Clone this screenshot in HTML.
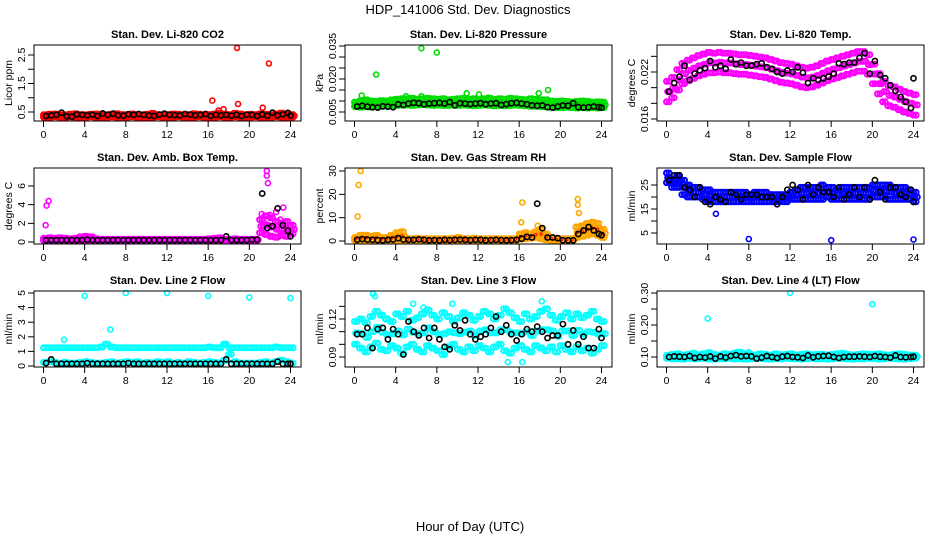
<!DOCTYPE html>
<html><head><meta charset="utf-8"><style>
body{margin:0;background:#fff}
svg{display:block;font-family:"Liberation Sans",sans-serif}
</style></head><body>
<svg id="chart" width="936" height="540" viewBox="0 0 936 540" xmlns="http://www.w3.org/2000/svg">
<rect width="936" height="540" fill="#fff"/>
<text x="468" y="14" text-anchor="middle" font-size="13">HDP_141006 Std. Dev. Diagnostics</text>
<text x="470" y="531" text-anchor="middle" font-size="13">Hour of Day (UTC)</text>
</svg>
<script>
const xTicks=[0,4,8,12,16,20,24];
const co2Hi=[0.40,0.42,0.43,0.41,0.40,0.42,0.44,0.41,0.40,0.42,0.43,0.41,0.40,0.42,0.44,0.41,0.40,0.43,0.41,0.40,0.42,0.45,0.41,0.40,0.41,0.43,0.42,0.40,0.41,0.44,0.42,0.40,0.41,0.43,0.46,0.42,0.41,0.45,0.43,0.40,0.42,0.41,0.44,0.42,0.41,0.43,0.46,0.42,0.41];
const co2Lo=[0.32,0.31,0.33,0.32,0.30,0.33,0.32,0.31,0.32,0.33,0.31,0.32,0.30,0.33,0.32,0.31,0.32,0.33,0.31,0.32,0.30,0.32,0.33,0.31,0.32,0.31,0.33,0.32,0.30,0.32,0.33,0.31,0.32,0.31,0.33,0.32,0.31,0.33,0.32,0.30,0.32,0.33,0.31,0.32,0.31,0.33,0.32,0.31,0.32];
const co2Blk=[0.36,0.38,0.40,0.48,0.35,0.33,0.42,0.40,0.38,0.41,0.36,0.45,0.40,0.44,0.38,0.37,0.42,0.40,0.43,0.40,0.38,0.36,0.41,0.44,0.40,0.39,0.38,0.43,0.41,0.38,0.40,0.43,0.36,0.40,0.38,0.40,0.37,0.40,0.36,0.41,0.40,0.36,0.42,0.37,0.48,0.38,0.42,0.47,0.38];
const co2OutH=[18.8,21.9,16.4,18.9,21.3,17.0,17.5];
const co2OutV=[2.75,2.2,0.9,0.78,0.65,0.55,0.6];
const prsHi=[0.0095,0.0100,0.0105,0.0100,0.0098,0.0102,0.0100,0.0105,0.0108,0.0110,0.0110,0.0112,0.0108,0.0110,0.0112,0.0110,0.0108,0.0110,0.0106,0.0108,0.0110,0.0112,0.0108,0.0110,0.0108,0.0110,0.0112,0.0108,0.0110,0.0108,0.0112,0.0110,0.0108,0.0106,0.0110,0.0108,0.0106,0.0105,0.0100,0.0098,0.0100,0.0098,0.0095,0.0098,0.0100,0.0098,0.0095,0.0096,0.0095];
const prsLo=[0.0075,0.0072,0.0074,0.0072,0.0075,0.0076,0.0078,0.0080,0.0080,0.0082,0.0082,0.0080,0.0082,0.0084,0.0082,0.0080,0.0082,0.0080,0.0080,0.0082,0.0080,0.0082,0.0080,0.0078,0.0080,0.0082,0.0080,0.0078,0.0080,0.0078,0.0080,0.0082,0.0080,0.0078,0.0076,0.0076,0.0075,0.0074,0.0072,0.0070,0.0070,0.0072,0.0070,0.0068,0.0070,0.0068,0.0070,0.0068,0.0070];
const prsBlk=[0.0075,0.0078,0.0074,0.0072,0.0070,0.0076,0.0074,0.0072,0.0085,0.0082,0.0088,0.0092,0.0090,0.0085,0.0088,0.0090,0.0092,0.0088,0.0095,0.0080,0.0090,0.0088,0.0086,0.0088,0.0090,0.0085,0.0088,0.0090,0.0082,0.0086,0.0090,0.0092,0.0088,0.0085,0.0080,0.0078,0.0080,0.0072,0.0070,0.0075,0.0080,0.0078,0.0090,0.0072,0.0070,0.0072,0.0075,0.0072,0.0070];
const prsOutH=[6.5,8.0,2.1,0.7,5.0,6.5,10.9,12.1,18.8,17.9,4.8,13.0];
const prsOutV=[0.034,0.032,0.022,0.0125,0.0122,0.0122,0.0135,0.013,0.015,0.0135,0.011,0.0115];
const tmpHi=[0.0208,0.0213,0.0223,0.0231,0.0235,0.0238,0.0241,0.0243,0.0245,0.0244,0.0245,0.0244,0.0244,0.0243,0.0242,0.0242,0.0241,0.0240,0.0239,0.0238,0.0236,0.0234,0.0232,0.0231,0.0230,0.0228,0.0226,0.0225,0.0226,0.0228,0.0231,0.0234,0.0236,0.0238,0.0240,0.0242,0.0244,0.0246,0.0246,0.0242,0.0230,0.0218,0.0208,0.0203,0.0201,0.0198,0.0195,0.0193,0.0191];
const tmpLo=[0.0182,0.0187,0.0197,0.0205,0.0209,0.0212,0.0215,0.0217,0.0219,0.0219,0.0220,0.0219,0.0219,0.0218,0.0217,0.0217,0.0216,0.0215,0.0214,0.0213,0.0211,0.0209,0.0207,0.0206,0.0205,0.0203,0.0201,0.0200,0.0201,0.0203,0.0206,0.0209,0.0211,0.0213,0.0215,0.0217,0.0219,0.0221,0.0221,0.0217,0.0205,0.0192,0.0182,0.0177,0.0175,0.0172,0.0169,0.0167,0.0165];
const tmpBlk=[0.0195,0.0206,0.0214,0.0228,0.0210,0.0218,0.0222,0.0225,0.0234,0.0226,0.0228,0.0224,0.0236,0.0230,0.0232,0.0228,0.0228,0.0230,0.0231,0.0226,0.0224,0.0220,0.0218,0.0222,0.0220,0.0226,0.0219,0.0206,0.0212,0.0210,0.0212,0.0214,0.0218,0.0231,0.0230,0.0232,0.0232,0.0238,0.0244,0.0218,0.0234,0.0216,0.0212,0.0203,0.0196,0.0188,0.0182,0.0174,0.0212];
const ambHi=[0.40,0.45,0.40,0.45,0.40,0.35,0.40,0.55,0.60,0.55,0.35,0.30,0.30,0.30,0.30,0.30,0.30,0.30,0.30,0.30,0.30,0.30,0.30,0.30,0.30,0.30,0.30,0.30,0.30,0.30,0.30,0.30,0.35,0.40,0.45,0.30,0.30,0.35,0.30,0.30,0.30,0.30,2.4,2.8,2.6,2.2,2.0,2.2,1.8];
const ambLo=[0.15,0.15,0.15,0.15,0.15,0.15,0.15,0.15,0.15,0.15,0.15,0.15,0.15,0.15,0.15,0.15,0.15,0.15,0.15,0.15,0.15,0.15,0.15,0.15,0.15,0.15,0.15,0.15,0.15,0.15,0.15,0.15,0.15,0.15,0.15,0.15,0.15,0.15,0.15,0.15,0.15,0.15,1.0,0.8,0.6,0.5,0.7,0.6,0.9];
const ambBlk=[0.2,0.2,0.2,0.2,0.2,0.2,0.2,0.2,0.25,0.2,0.2,0.2,0.2,0.2,0.2,0.2,0.2,0.2,0.2,0.2,0.2,0.2,0.2,0.2,0.2,0.2,0.2,0.2,0.2,0.2,0.2,0.2,0.2,0.2,0.2,0.6,0.2,0.2,0.2,0.2,0.25,0.25,5.2,1.5,1.7,3.6,1.8,1.2,0.6];
const ambOutH=[0.2,0.3,0.5,21.7,21.7,21.8,21.2,23.3,22.6,21.5,22.0,23.0];
const ambOutV=[1.8,3.9,4.4,7.6,7.1,6.3,3.0,3.7,3.2,2.0,2.9,2.4];
const rhHi=[1.5,2.5,2.5,2.0,2.5,1.5,1.5,2.5,3.5,4.0,1.0,1.0,1.2,1.0,1.0,1.0,1.0,1.0,1.0,1.2,1.5,1.0,1.0,1.2,1.0,1.0,1.0,1.0,1.0,1.0,1.0,1.0,3.0,3.5,3.0,4.0,5.0,3.0,1.5,1.0,1.0,1.0,1.0,6.0,6.5,7.5,8.0,7.5,5.0];
const rhLo=[0.3,0.3,0.3,0.3,0.3,0.3,0.3,0.3,0.3,0.3,0.3,0.3,0.3,0.3,0.3,0.3,0.3,0.3,0.3,0.3,0.3,0.3,0.3,0.3,0.3,0.3,0.3,0.3,0.3,0.3,0.3,0.3,0.8,1.0,1.2,1.5,1.0,0.5,0.4,0.3,0.3,0.3,0.3,1.5,2.0,2.5,3.0,2.5,1.5];
const rhBlk=[0.5,0.8,0.6,0.5,0.4,0.3,0.5,0.6,1.2,0.6,0.5,0.5,0.7,0.5,0.3,0.4,0.3,0.5,0.4,0.5,0.6,0.5,0.4,0.5,0.5,0.3,0.4,0.5,0.4,0.3,0.4,0.5,1.0,1.8,1.5,16.0,5.5,1.5,1.5,1.2,0.3,0.3,0.3,3.0,4.5,6.0,4.5,3.0,2.5];
const rhOutH=[0.3,0.4,0.6,16.3,16.2,21.7,21.7,21.8,17.8];
const rhOutV=[10.5,24,30,16.5,8,18,15.5,12,6.5];
const sfHi=[30,27,29,27,25,24,24,23,23,22,22,22,22,22,22,22,21,22,22,22,21,21,21,21,22,23,24,24,24,24,25,24,24,23,24,24,24,24,24,24,25,25,25,25,24,24,24,23,22];
const sfLo=[26,24,24,21,20,20,20,19,18,18,18,18,18,18,18,18,18,18,18,18,18,18,18,18,19,19,19,19,19,19,19,20,19,19,19,19,19,19,19,19,20,20,20,19,19,19,19,19,18];
const sfBlk=[27,29,29,24,23,20,24,18,17,20,19,18,22,21,19,21,21,21,20,20,20,17,20,23,25,23,19,25,21,24,22,22,20,24,19,21,24,20,24,19,27,22,19,24,24,21,20,23,18];
const sfOutH=[8,16,24,4.8,0.3,1.1];
const sfOutV=[2.5,2,2.3,13,28,29];
const l2Hi=[1.25,1.25,1.25,1.25,1.25,1.25,1.25,1.25,1.25,1.25,1.25,1.3,1.5,1.3,1.25,1.25,1.25,1.25,1.25,1.25,1.25,1.25,1.25,1.25,1.25,1.25,1.25,1.25,1.25,1.25,1.25,1.25,1.3,1.25,1.25,1.5,1.25,1.25,1.25,1.25,1.25,1.25,1.25,1.25,1.25,1.3,1.25,1.25,1.25];
const l2Lo=[0.25,0.3,0.25,0.2,0.25,0.2,0.2,0.25,0.3,0.25,0.2,0.2,0.25,0.3,0.2,0.25,0.3,0.25,0.3,0.2,0.25,0.2,0.3,0.25,0.3,0.2,0.25,0.2,0.3,0.25,0.2,0.25,0.3,0.25,0.2,0.4,0.8,0.3,0.2,0.2,0.2,0.2,0.25,0.3,0.2,0.3,0.4,0.3,0.2];
const l2Blk=[0.2,0.45,0.15,0.15,0.15,0.15,0.15,0.15,0.2,0.15,0.15,0.15,0.15,0.15,0.15,0.15,0.2,0.15,0.15,0.15,0.15,0.15,0.15,0.15,0.15,0.15,0.15,0.15,0.15,0.15,0.15,0.15,0.15,0.15,0.15,0.45,0.15,0.15,0.15,0.15,0.15,0.15,0.15,0.15,0.15,0.3,0.15,0.15,0.15];
const l2OutH=[4,8,12,16,20,24,6.5,2,17.6];
const l2OutV=[4.8,5,5,4.8,4.7,4.65,2.5,1.8,1.5];
const l3Hi=[0.118,0.120,0.117,0.122,0.126,0.123,0.120,0.118,0.124,0.122,0.126,0.119,0.121,0.124,0.127,0.123,0.120,0.125,0.122,0.118,0.121,0.125,0.123,0.119,0.122,0.126,0.124,0.120,0.123,0.128,0.125,0.121,0.118,0.124,0.120,0.122,0.126,0.128,0.123,0.119,0.122,0.125,0.120,0.124,0.121,0.123,0.126,0.120,0.118];
const l3Lo=[0.100,0.097,0.094,0.098,0.101,0.096,0.095,0.099,0.097,0.093,0.098,0.100,0.096,0.094,0.099,0.097,0.095,0.092,0.098,0.100,0.096,0.094,0.098,0.095,0.099,0.097,0.094,0.098,0.100,0.095,0.093,0.097,0.099,0.096,0.094,0.099,0.097,0.095,0.098,0.094,0.099,0.096,0.094,0.098,0.095,0.097,0.093,0.096,0.099];
const l3Blk=[0.108,0.108,0.113,0.097,0.112,0.113,0.104,0.112,0.108,0.092,0.118,0.110,0.107,0.113,0.105,0.113,0.104,0.098,0.096,0.115,0.111,0.119,0.108,0.104,0.106,0.108,0.113,0.122,0.110,0.115,0.108,0.103,0.108,0.112,0.110,0.114,0.110,0.105,0.107,0.107,0.116,0.100,0.111,0.100,0.106,0.097,0.097,0.112,0.105];
const l3OutH=[1.8,2.0,6.7,9.5,16.3,18.2,14.9,5.7];
const l3OutV=[0.140,0.138,0.129,0.132,0.086,0.134,0.086,0.132];
const l4Hi=[0.105,0.108,0.110,0.106,0.108,0.112,0.107,0.110,0.113,0.108,0.106,0.110,0.108,0.112,0.115,0.110,0.108,0.106,0.110,0.108,0.106,0.110,0.107,0.108,0.110,0.106,0.108,0.110,0.107,0.108,0.109,0.106,0.108,0.110,0.112,0.108,0.106,0.108,0.110,0.109,0.108,0.110,0.107,0.106,0.108,0.110,0.108,0.106,0.106];
const l4Lo=[0.096,0.094,0.095,0.093,0.096,0.094,0.095,0.096,0.094,0.093,0.095,0.094,0.096,0.094,0.095,0.093,0.094,0.096,0.095,0.094,0.093,0.095,0.094,0.096,0.095,0.094,0.093,0.095,0.096,0.094,0.095,0.093,0.094,0.096,0.095,0.094,0.093,0.095,0.094,0.096,0.095,0.093,0.094,0.096,0.095,0.094,0.093,0.095,0.096];
const l4Blk=[0.100,0.102,0.101,0.100,0.103,0.097,0.100,0.098,0.102,0.095,0.102,0.098,0.103,0.106,0.102,0.103,0.102,0.095,0.098,0.103,0.100,0.097,0.101,0.103,0.100,0.099,0.097,0.105,0.099,0.102,0.103,0.104,0.100,0.097,0.100,0.101,0.101,0.102,0.101,0.100,0.103,0.101,0.100,0.098,0.105,0.100,0.099,0.100,0.101];
const l4OutH=[4,12,20,6.8,8];
const l4OutV=[0.22,0.30,0.265,0.115,0.115];

const NS="http://www.w3.org/2000/svg";
const svg=document.getElementById('chart');
function mk(tag,attrs,parent){const e=document.createElementNS(NS,tag);for(const k in attrs)e.setAttribute(k,attrs[k]);(parent||svg).appendChild(e);return e;}
const colLeft=[34,345,657],rowTop=[45,168,291],W=267,H=76;
const panels=[
 {title:"Stan. Dev. Li-820 CO2",ylab:"Licor ppm",c:0,r:0,col:"#ff0000",mid:true,v1:0.5,p1:112,v2:2.5,p2:55,ticks:[0.5,1,1.5,2,2.5],labels:["0.5","","1.5","","2.5"],hi:co2Hi,lo:co2Lo,blk:co2Blk,oh:co2OutH,ov:co2OutV},
 {title:"Stan. Dev. Li-820 Pressure",ylab:"kPa",c:1,r:0,col:"#00dd00",mid:true,v1:0.005,p1:112,v2:0.035,p2:46,ticks:[0.005,0.01,0.015,0.02,0.025,0.03,0.035],labels:["0.005","","","0.020","","","0.035"],hi:prsHi,lo:prsLo,blk:prsBlk,oh:prsOutH,ov:prsOutV},
 {title:"Stan. Dev. Li-820 Temp.",ylab:"degrees C",c:2,r:0,col:"#ff00ff",mid:true,v1:0.016,p1:119,v2:0.022,p2:72,ticks:[0.016,0.018,0.02,0.022,0.024],labels:["0.016","","","0.022",""],hi:tmpHi,lo:tmpLo,blk:tmpBlk,oh:[],ov:[]},
 {title:"Stan. Dev. Amb. Box Temp.",ylab:"degrees C",c:0,r:1,col:"#ff00ff",mid:true,v1:0,p1:242,v2:6,p2:186,ticks:[0,2,4,6],labels:["0","2","4","6"],hi:ambHi,lo:ambLo,blk:ambBlk,oh:ambOutH,ov:ambOutV},
 {title:"Stan. Dev. Gas Stream RH",ylab:"percent",c:1,r:1,col:"#ffa500",col2:"#ff0000",mid:true,v1:0,p1:241,v2:30,p2:171,ticks:[0,10,20,30],labels:["0","10","20","30"],hi:rhHi,lo:rhLo,blk:rhBlk,oh:rhOutH,ov:rhOutV},
 {title:"Stan. Dev. Sample Flow",ylab:"ml/min",c:2,r:1,col:"#0000ff",mid:true,v1:5,p1:233,v2:25,p2:185,ticks:[5,10,15,20,25],labels:["5","","15","","25"],hi:sfHi,lo:sfLo,blk:sfBlk,oh:sfOutH,ov:sfOutV},
 {title:"Stan. Dev. Line 2 Flow",ylab:"ml/min",c:0,r:2,col:"#00ffff",mid:false,v1:0,p1:366,v2:5,p2:293,ticks:[0,1,2,3,4,5],labels:["0","1","2","3","4","5"],hi:l2Hi,lo:l2Lo,blk:l2Blk,oh:l2OutH,ov:l2OutV},
 {title:"Stan. Dev. Line 3 Flow",ylab:"ml/min",c:1,r:2,col:"#00ffff",mid:true,v1:0.09,p1:357,v2:0.12,p2:319,ticks:[0.09,0.1,0.11,0.12,0.13],labels:["0.09","","","0.12",""],hi:l3Hi,lo:l3Lo,blk:l3Blk,oh:l3OutH,ov:l3OutV},
 {title:"Stan. Dev. Line 4 (LT) Flow",ylab:"ml/min",c:2,r:2,col:"#00ffff",mid:true,v1:0.1,p1:357,v2:0.3,p2:293,ticks:[0.1,0.15,0.2,0.25,0.3],labels:["0.10","","0.20","","0.30"],hi:l4Hi,lo:l4Lo,blk:l4Blk,oh:l4OutH,ov:l4OutV}
];
panels.forEach((p,pi)=>{
 const L=colLeft[p.c],T=rowTop[p.r];
 const xs=h=>L+9.5+h*(247/24);
 const ys=v=>p.p1+(v-p.v1)*(p.p2-p.p1)/(p.v2-p.v1);
 const g=mk('g',{});
 
 
 const t=mk('text',{x:L+W/2,y:T-7,'text-anchor':'middle','font-size':'11','font-weight':'bold'},g);t.textContent=p.title;
 
 
 const yl=mk('text',{transform:`translate(${L-22},${T+H/2}) rotate(-90)`,'text-anchor':'middle','font-size':'10.5'},g);yl.textContent=p.ylab;
 
 
 const dg=mk('g',{fill:'none'},g);
 
 
 const dot=(h,v,col,w,r)=>{const c=mk('circle',{cx:xs(h).toFixed(1),cy:ys(v).toFixed(1),r:r,stroke:col,'stroke-width':w},dg);
  
  };
 p.hi.forEach((v,i)=>{dot(i*0.5,v,p.col,2,2.5);dot(i*0.5+0.25,v,p.col,2,2.5);
  if(p.mid){dot(i*0.5+0.12,(v+p.lo[i])/2,p.col,2,2.5);dot(i*0.5+0.37,(v+p.lo[i])/2,p.col,2,2.5);}});
 p.lo.forEach((v,i)=>{dot(i*0.5,v,p.col,2,2.5);dot(i*0.5+0.25,v,p.col,2,2.5);});
 if(p.col2){p.hi.forEach((v,i)=>{dot(i*0.5+0.12,(v+p.lo[i])/2,p.col2,1,1.2);});}
 p.oh.forEach((h,i)=>dot(h,p.ov[i],p.col,1.6,2.5));
 p.blk.forEach((v,i)=>dot(Math.min(24,i*0.5+0.25),v,'#000',1.6,2.6));
 const f=mk('rect',{x:L,y:T,width:W,height:H,fill:'none',stroke:'#000','stroke-width':1},g);
 
 
 xTicks.forEach(h=>{mk('line',{x1:xs(h),x2:xs(h),y1:T+H,y2:T+H+6,stroke:'#000'},g);
  const tl=mk('text',{x:xs(h),y:T+H+17,'text-anchor':'middle','font-size':'10.5'},g);tl.textContent=h;
  
  });
 p.ticks.forEach((v,i)=>{const y=ys(v);mk('line',{x1:L-6,x2:L,y1:y,y2:y,stroke:'#000'},g);
  if(p.labels[i]){const tl=mk('text',{transform:`translate(${L-9},${y}) rotate(-90)`,'text-anchor':'middle','font-size':'10.5'},g);tl.textContent=p.labels[i];
  
  }});
});
</script>
</body></html>
